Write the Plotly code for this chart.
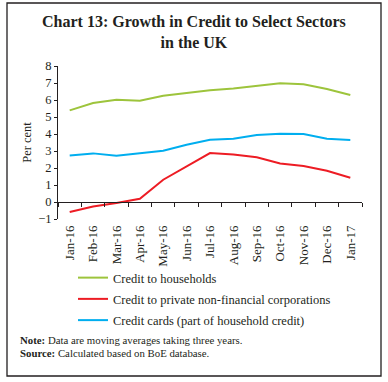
import plotly.graph_objects as go

months = ["Jan-16", "Feb-16", "Mar-16", "Apr-16", "May-16", "Jun-16", "Jul-16",
          "Aug-16", "Sep-16", "Oct-16", "Nov-16", "Dec-16", "Jan-17"]
households = [5.39, 5.82, 6.02, 5.96, 6.25, 6.41, 6.58, 6.68, 6.85, 6.98, 6.92, 6.65, 6.29]
corporations = [-0.59, -0.26, -0.06, 0.19, 1.31, 2.1, 2.88, 2.8, 2.63, 2.27, 2.12, 1.84, 1.43]
credit_cards = [2.74, 2.86, 2.72, 2.88, 3.02, 3.37, 3.66, 3.72, 3.94, 4.02, 4.0, 3.72, 3.65]

names = ["Credit to households", "Credit to private non-financial corporations",
         "Credit cards (part of household credit)"]
colors = ["#9DC43C", "#ED1C24", "#00AEEF"]

FONT = "Liberation Serif"
W, H = 388, 382
L, R, T, B = 58, 26, 66, 163
pw, ph = W - L - R, H - T - B

def px(x):
    return (x - L) / pw

def py(y):
    return (H - B - y) / ph

fig = go.Figure()
for i, (name, vals, c) in enumerate(zip(names, [households, corporations, credit_cards], colors)):
    fig.add_trace(go.Scatter(x=months, y=vals, mode="lines", name=name,
                             legendgroup=f"g{i}",
                             line=dict(color=c, width=2)))

fig.update_layout(
    width=W, height=H,
    margin=dict(l=L, r=R, t=T, b=B),
    paper_bgcolor="white", plot_bgcolor="white",
    font=dict(family=FONT, color="#231F20", size=11),
    showlegend=True,
    legend=dict(x=px(73), y=py(263), xanchor="left", yanchor="top",
                font=dict(family=FONT, size=12.5), bgcolor="rgba(0,0,0,0)",
                tracegroupgap=2),
    xaxis=dict(type="category", categoryorder="array", categoryarray=months,
               range=[-0.5, 12.5],
               anchor="free", position=(219 - 202.3) / 153,
               showline=True, linecolor="#231F20", linewidth=1,
               ticks="outside", ticklen=4, tickcolor="#231F20", tickson="boundaries",
               tickangle=-90, ticklabelstandoff=17, showgrid=False,
               tickfont=dict(family=FONT, size=13)),
    yaxis=dict(range=[-1, 8], dtick=1, tick0=0, showline=True, linecolor="#231F20",
               linewidth=1, ticks="outside", ticklen=3, tickcolor="#231F20",
               showgrid=False, zeroline=False,
               title=dict(text="Per cent", standoff=3, font=dict(family=FONT, size=12.5)),
               tickfont=dict(family=FONT, size=12.5)),
)

fig.add_shape(type="rect", xref="paper", yref="paper",
              x0=px(7), x1=px(381), y0=py(376), y1=py(3),
              line=dict(color="#231F20", width=1.3), fillcolor="rgba(0,0,0,0)", layer="above")

fig.add_annotation(xref="paper", yref="paper", x=px(194), y=py(32), xanchor="center",
                   yanchor="middle", showarrow=False, align="center",
                   text="<b>Chart 13: Growth in Credit to Select Sectors<br>in the UK</b>",
                   font=dict(family=FONT, size=16))

fig.add_annotation(xref="paper", yref="paper", x=px(18), y=py(340), xanchor="left",
                   yanchor="middle", showarrow=False, align="left",
                   text="<b>Note:</b> Data are moving averages taking three years.",
                   font=dict(family=FONT, size=10.8))
fig.add_annotation(xref="paper", yref="paper", x=px(18), y=py(353), xanchor="left",
                   yanchor="middle", showarrow=False, align="left",
                   text="<b>Source:</b> Calculated based on BoE database.",
                   font=dict(family=FONT, size=10.8))

fig.write_html("out.html", config={"displayModeBar": False},
               post_script="document.body.style.margin='0';")
